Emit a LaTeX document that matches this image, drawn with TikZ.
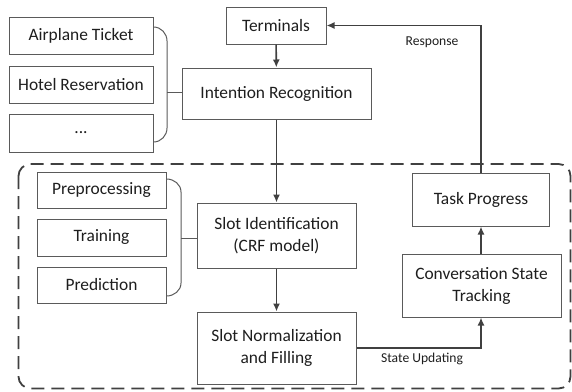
\documentclass[tikz,border=0pt]{standalone}
\usepackage{fontspec}
\setmainfont{Carlito}
\usetikzlibrary{arrows.meta}
\definecolor{boxline}{HTML}{5A5A5A}
\definecolor{arrline}{HTML}{404040}
\definecolor{txt}{HTML}{1E1E1E}
\begin{document}
\begin{tikzpicture}[x=1pt,y={(0pt,-1pt)},
  bx/.style={draw=boxline, line width=1pt, fill=white, text=txt, inner sep=0pt, align=center,
    font=\fontsize{17.4}{22}\selectfont},
  arr/.style={draw=arrline, line width=1.6pt, -{Latex[length=8pt,width=7pt]}},
  lnk/.style={draw=boxline, line width=1pt},
  lbl/.style={text=txt, font=\fontsize{13.6}{16}\selectfont, inner sep=0pt}]
\useasboundingbox (0,0) rectangle (572,391);
% dashed region
\draw[draw=arrline, line width=1.8pt, dash pattern=on 13pt off 7pt, rounded corners=12pt]
  (18.5,164) rectangle (570.5,388.5);
% nodes
\node[bx, minimum width=144pt, minimum height=37pt] (air) at (81,35.5) {Airplane Ticket};
\node[bx, minimum width=144pt, minimum height=37pt] (hotel) at (81,84.5) {Hotel Reservation};
\node[bx, minimum width=144pt, minimum height=38pt] (dots) at (81,133) {...};
\node[bx, minimum width=100pt, minimum height=37pt] (term) at (276,25.5) {Terminals};
\node[bx, minimum width=189pt, minimum height=51pt] (intent) at (276.5,93.5) {Intention Recognition};
\node[bx, minimum width=129pt, minimum height=36pt] (pre) at (101.5,190) {Preprocessing};
\node[bx, minimum width=129pt, minimum height=37pt] (train) at (101.5,237.5) {Training};
\node[bx, minimum width=129pt, minimum height=36pt] (pred) at (101.5,285) {Prediction};
\node[bx, minimum width=159pt, minimum height=65pt] (slotid) at (276.5,235.5) {Slot Identification\\(CRF model)};
\node[bx, minimum width=159pt, minimum height=72pt] (slotnorm) at (276.5,348) {Slot Normalization\\and Filling};
\node[bx, minimum width=159pt, minimum height=63pt] (conv) at (481.5,285.5) {Conversation State\\Tracking};
\node[bx, minimum width=137pt, minimum height=53pt] (task) at (481,199.5) {Task Progress};
% braces
\coordinate (b1t) at (air.east |- 0,27);
\coordinate (b1b) at (dots.east |- 0,142);
\draw[lnk] (b1t) to[out=0,in=90] (167,41) -- (167,128) to[out=-90,in=0] (b1b);
\draw[lnk] (167,92) -- (intent.west |- 0,92);
\coordinate (b2t) at (pre.east |- 0,179);
\coordinate (b2b) at (pred.east |- 0,296);
\draw[lnk] (b2t) to[out=0,in=90] (181,192) -- (181,283) to[out=-90,in=0] (b2b);
\draw[lnk] (181,238) -- (slotid.west |- 0,238);
% arrows
\draw[arr] (term) -- (intent);
\draw[arr] (intent) -- (slotid);
\draw[arr] (slotid) -- (slotnorm);
\draw[arr] (slotnorm.east |- 0,348) -- (481,348) -- (conv.south -| 481,0);
\draw[arr] (conv.north -| 481,0) -- (task.south);
\draw[arr] (task.north) -- (481,25.5) -- (term.east);
% labels
\node[lbl] (resp) at (432,42) {Response};
\node[lbl] (upd) at (422,359) {State Updating};
\end{tikzpicture}
\end{document}
